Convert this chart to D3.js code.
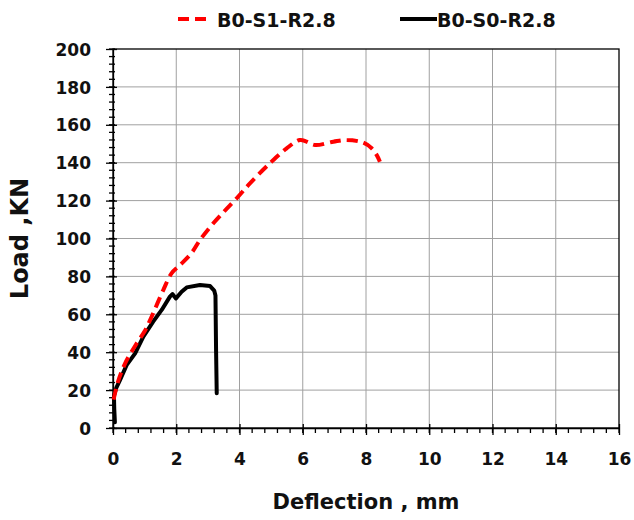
<!DOCTYPE html>
<html>
<head>
<script src="https://d3js.org/d3.v7.min.js"></script>
<style>
  body { margin: 0; background: #fff; }
  text { font-family: "DejaVu Sans", sans-serif; font-weight: bold; fill: #111; }
</style>
</head>
<body>
<div id="chart"></div>
<script>
// data (deflection mm, load kN)
const s1Deflection = [0.02, 0.15, 0.38, 0.75, 1.0, 1.22, 1.59, 1.85, 2.12, 2.49, 2.75, 3.12, 3.5, 3.91, 4.33, 4.96, 5.49, 5.91, 6.12, 6.39, 6.97, 7.39, 7.91, 8.18, 8.34, 8.44];
const s1Load = [15, 24, 34, 44.7, 51, 58.7, 72.8, 81.6, 86, 92.5, 99.2, 107, 114, 121.2, 129.1, 139.7, 147.6, 152, 151.1, 149.3, 151.1, 152, 150.6, 147.6, 144, 140.5];
const s0Deflection = [0.06, 0.04, 0.03, 0.1, 0.22, 0.43, 0.7, 0.96, 1.27, 1.54, 1.8, 1.88, 1.99, 2.17, 2.33, 2.75, 3.07, 3.2, 3.24, 3.26, 3.28];
const s0Load = [3, 10, 17, 21, 25.3, 33.2, 39.4, 48.2, 56.1, 62.3, 69.3, 70.7, 68.4, 71.9, 74.2, 75.5, 74.9, 72.5, 69.9, 40, 18.3];
const seriesNames = ["B0-S1-R2.8", "B0-S0-R2.8"];
const xTicks = [0, 2, 4, 6, 8, 10, 12, 14, 16];
const yTicks = [0, 20, 40, 60, 80, 100, 120, 140, 160, 180, 200];

const width = 634, height = 520;
const margin = { top: 49, right: 15, bottom: 92, left: 113 };

const svg = d3.select("#chart").append("svg")
    .attr("width", width)
    .attr("height", height);

const x = d3.scaleLinear().domain([0, 16]).range([margin.left, width - margin.right]);
const y = d3.scaleLinear().domain([0, 200]).range([height - margin.bottom, margin.top]);

// grid
svg.append("g").selectAll("line")
    .data(xTicks.slice(1, -1))
    .join("line")
    .attr("x1", d => x(d)).attr("x2", d => x(d))
    .attr("y1", y(0)).attr("y2", y(200))
    .attr("stroke", "#a0a0a0").attr("stroke-width", 1);
svg.append("g").selectAll("line")
    .data(yTicks.slice(1, -1))
    .join("line")
    .attr("x1", x(0)).attr("x2", x(16))
    .attr("y1", d => y(d)).attr("y2", d => y(d))
    .attr("stroke", "#a0a0a0").attr("stroke-width", 1);

// frame
svg.append("rect")
    .attr("x", x(0)).attr("y", y(200))
    .attr("width", x(16) - x(0)).attr("height", y(0) - y(200))
    .attr("fill", "none").attr("stroke", "#000").attr("stroke-width", 1.3);

// minor ticks
svg.append("g").selectAll("line")
    .data(d3.range(0, 16.01, 0.4))
    .join("line")
    .attr("x1", d => x(d)).attr("x2", d => x(d))
    .attr("y1", y(0)).attr("y2", y(0) + 5)
    .attr("stroke", "#000").attr("stroke-width", 1.3);
svg.append("g").selectAll("line")
    .data(d3.range(0, 200.01, 4))
    .join("line")
    .attr("x1", x(0) - 4).attr("x2", x(0) + 2)
    .attr("y1", d => y(d)).attr("y2", d => y(d))
    .attr("stroke", "#000").attr("stroke-width", 1.3);

// axes (major ticks and labels)
const xAxis = svg.append("g")
    .attr("transform", `translate(0,${y(0)})`)
    .call(d3.axisBottom(x).tickValues(xTicks).tickSize(7).tickSizeOuter(0));
xAxis.select(".domain").attr("stroke-width", 1.3);
xAxis.selectAll(".tick line").attr("y1", -4).attr("stroke-width", 1.3);
xAxis.selectAll("text").attr("y", 37).attr("dy", 0)
    .style("font-size", "17px").attr("fill", "#111");

const yAxis = svg.append("g")
    .attr("transform", `translate(${x(0)},0)`)
    .call(d3.axisLeft(y).tickValues(yTicks).tickSize(7).tickSizeOuter(0));
yAxis.select(".domain").attr("stroke-width", 1.3);
yAxis.selectAll(".tick line").attr("x1", 4).attr("stroke-width", 1.3);
yAxis.selectAll("text").attr("x", -22).attr("dy", "0.36em")
    .style("font-size", "17px").attr("fill", "#111");

// axis titles
svg.append("text")
    .attr("x", (x(0) + x(16)) / 2).attr("y", 509)
    .attr("text-anchor", "middle")
    .style("font-size", "21px")
    .text("Deflection , mm");
svg.append("text")
    .attr("transform", `translate(28,${(y(0) + y(200)) / 2}) rotate(-90)`)
    .attr("text-anchor", "middle")
    .style("font-size", "24px")
    .text("Load ,KN");

// curves
const s1 = s1Deflection.map((d, i) => [d, s1Load[i]]);
const s0 = s0Deflection.map((d, i) => [d, s0Load[i]]);
const smooth = d3.line().x(d => x(d[0])).y(d => y(d[1])).curve(d3.curveCatmullRom.alpha(0.5));
const straight = d3.line().x(d => x(d[0])).y(d => y(d[1]));

svg.append("path").datum(s0)
    .attr("d", straight)
    .attr("fill", "none").attr("stroke", "#000").attr("stroke-width", 4)
    .attr("stroke-linejoin", "round").attr("stroke-linecap", "round");
svg.append("path").datum(s1)
    .attr("d", smooth)
    .attr("fill", "none").attr("stroke", "#ff0000").attr("stroke-width", 4)
    .attr("stroke-dasharray", "11,6").attr("stroke-linejoin", "round");

// legend
const legend = svg.append("g");
legend.append("line")
    .attr("x1", 178).attr("x2", 209).attr("y1", 19).attr("y2", 19)
    .attr("stroke", "#ff0000").attr("stroke-width", 4).attr("stroke-dasharray", "11,6");
legend.append("text")
    .attr("x", 217).attr("y", 27)
    .style("font-size", "19px")
    .text(seriesNames[0]);
legend.append("line")
    .attr("x1", 400).attr("x2", 437).attr("y1", 19).attr("y2", 19)
    .attr("stroke", "#000").attr("stroke-width", 4);
legend.append("text")
    .attr("x", 437).attr("y", 27)
    .style("font-size", "19px")
    .text(seriesNames[1]);
</script>
</body>
</html>
